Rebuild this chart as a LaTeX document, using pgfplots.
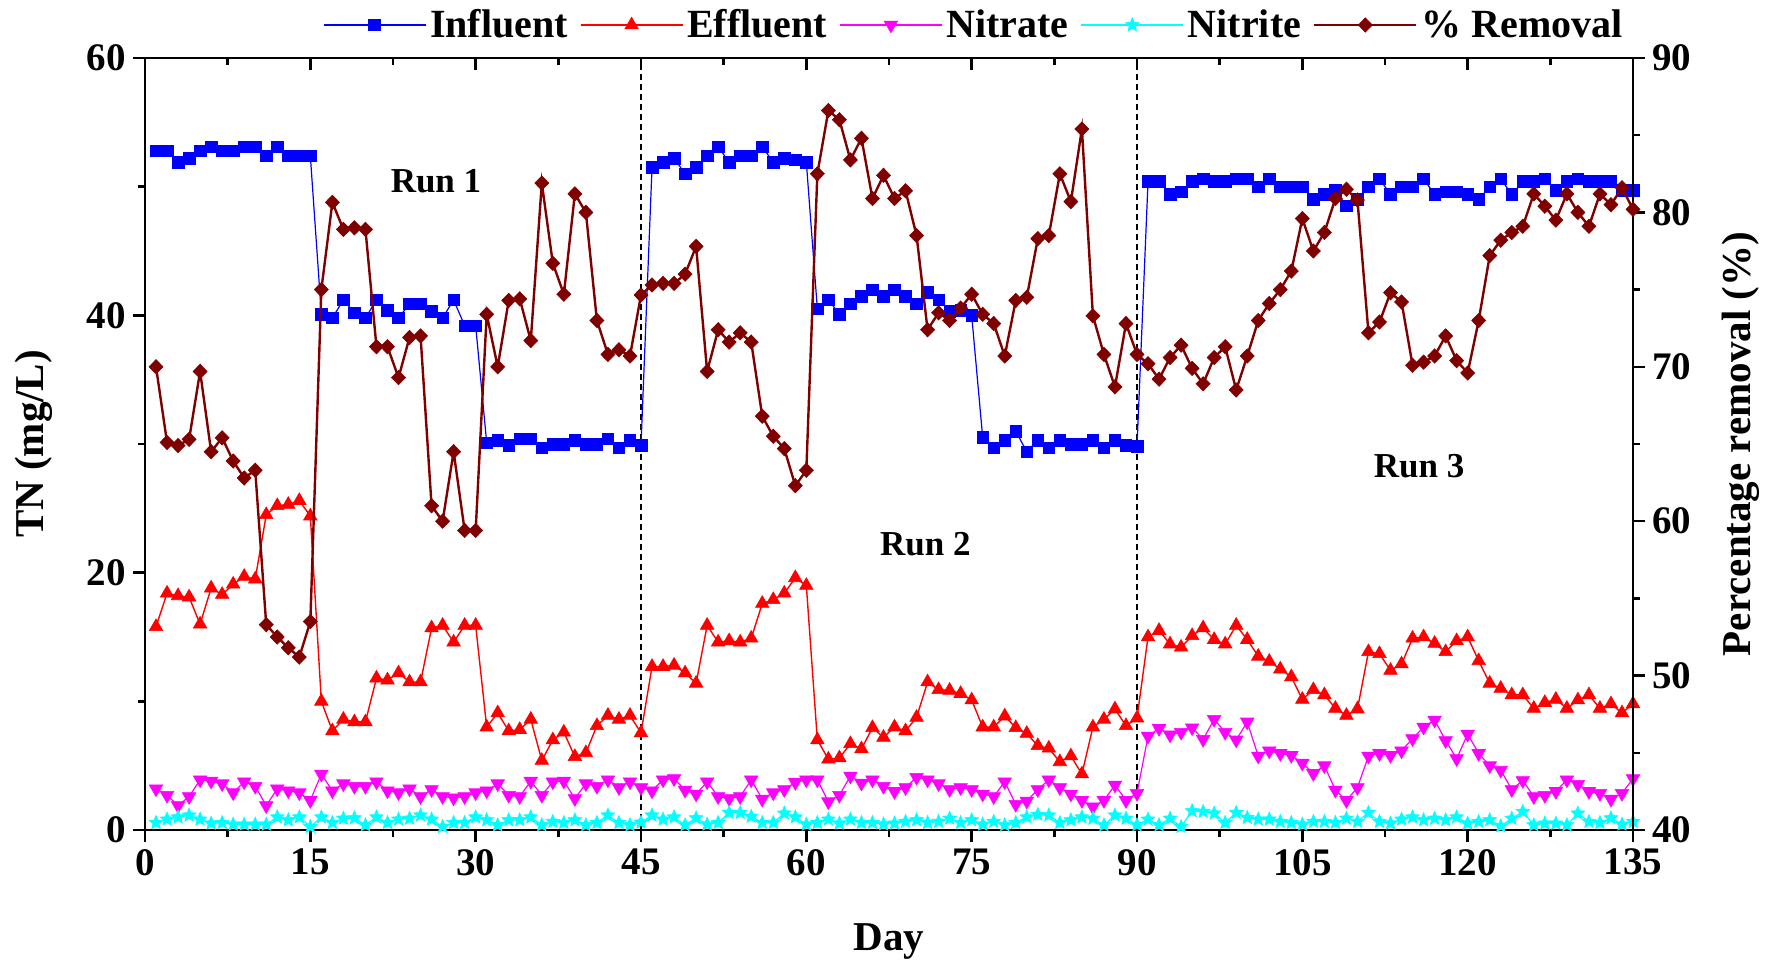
\documentclass[border=0pt]{standalone}
\usepackage{fontspec}
\setmainfont{Liberation Serif}
\usepackage{pgfplots}
\usepackage{pgfplotstable}
\pgfplotsset{compat=1.18}

\definecolor{remcol}{RGB}{128,0,0}
\definecolor{inflcol}{RGB}{0,0,255}
\definecolor{efflcol}{RGB}{255,0,0}
\definecolor{no3col}{RGB}{255,0,255}
\definecolor{no2col}{RGB}{0,255,255}

% filled five-pointed star
\pgfdeclareplotmark{fstar}{%
  \pgfpathmoveto{\pgfpointpolar{90}{\pgfplotmarksize}}%
  \pgfpathlineto{\pgfpointpolar{126}{0.45\pgfplotmarksize}}%
  \pgfpathlineto{\pgfpointpolar{162}{\pgfplotmarksize}}%
  \pgfpathlineto{\pgfpointpolar{198}{0.45\pgfplotmarksize}}%
  \pgfpathlineto{\pgfpointpolar{234}{\pgfplotmarksize}}%
  \pgfpathlineto{\pgfpointpolar{270}{0.45\pgfplotmarksize}}%
  \pgfpathlineto{\pgfpointpolar{306}{\pgfplotmarksize}}%
  \pgfpathlineto{\pgfpointpolar{342}{0.45\pgfplotmarksize}}%
  \pgfpathlineto{\pgfpointpolar{18}{\pgfplotmarksize}}%
  \pgfpathlineto{\pgfpointpolar{54}{0.45\pgfplotmarksize}}%
  \pgfpathclose
  \pgfusepathqfillstroke
}

% day, influent TN, effluent TN, nitrate, nitrite (mg/L), TN removal (%)
\pgfplotstableread{
day inf eff no3 no2 rem
1 52.8 15.8 3.2 0.57 70.0
2 52.8 18.4 2.7 0.83 65.1
3 51.9 18.2 1.9 1.0 64.9
4 52.2 18.1 2.6 1.15 65.3
5 52.8 16.0 3.9 0.83 69.7
6 53.1 18.8 3.8 0.52 64.5
7 52.8 18.3 3.6 0.57 65.4
8 52.8 19.1 2.9 0.44 63.9
9 53.1 19.7 3.75 0.44 62.8
10 53.1 19.5 3.4 0.44 63.3
11 52.4 24.5 1.9 0.44 53.3
12 53.1 25.2 3.2 1.0 52.5
13 52.4 25.3 3.05 0.78 51.8
14 52.4 25.6 2.9 1.0 51.2
15 52.4 24.4 2.3 0.26 53.5
16 40.1 10.0 4.35 1.0 75.0
17 39.8 7.7 3.05 0.57 80.65
18 41.2 8.6 3.6 0.9 78.9
19 40.2 8.4 3.4 0.93 79.0
20 39.8 8.4 3.4 0.39 78.9
21 41.2 11.8 3.75 1.0 71.3
22 40.4 11.65 3.05 0.57 71.3
23 39.8 12.2 2.9 0.83 69.3
24 40.9 11.5 3.2 0.9 71.9
25 40.9 11.5 2.6 1.15 72.0
26 40.3 15.7 3.15 0.83 61.0
27 39.8 15.9 2.6 0.26 60.0
28 41.2 14.6 2.5 0.57 64.5
29 39.2 15.9 2.6 0.57 59.4
30 39.2 15.9 2.9 1.0 59.4
31 30.1 8.0 3.05 0.78 73.4
32 30.3 9.1 3.6 0.39 70.0
33 29.9 7.7 2.7 0.78 74.3
34 30.4 7.8 2.6 0.78 74.4
35 30.4 8.6 3.8 1.0 71.7
36 29.7 5.4 2.7 0.39 81.9
37 30.0 7.0 3.75 0.65 76.7
38 30.0 7.6 3.8 0.57 74.7
39 30.3 5.7 2.45 0.78 81.2
40 30.0 6.0 3.6 0.39 80.0
41 30.0 8.1 3.4 0.57 73.0
42 30.4 8.9 3.9 1.15 70.8
43 29.7 8.6 3.3 0.57 71.1
44 30.3 8.9 3.75 0.39 70.7
45 29.9 7.55 3.3 0.6 74.65
46 51.5 12.7 3.05 1.15 75.3
47 51.9 12.7 3.9 0.83 75.4
48 52.2 12.8 4.0 1.0 75.4
49 51.0 12.2 3.1 0.39 76.0
50 51.5 11.4 2.8 0.93 77.8
51 52.4 15.9 3.75 0.44 69.7
52 53.1 14.6 2.6 0.57 72.4
53 51.9 14.7 2.45 1.35 71.6
54 52.4 14.6 2.6 1.35 72.2
55 52.4 14.9 3.9 1.05 71.6
56 53.1 17.6 2.4 0.57 66.8
57 51.9 17.9 2.9 0.57 65.5
58 52.2 18.4 3.15 1.3 64.7
59 52.1 19.6 3.7 1.0 62.3
60 51.9 19.0 3.9 0.44 63.3
61 40.5 7.0 3.9 0.57 82.5
62 41.2 5.5 2.2 0.83 86.6
63 40.1 5.6 2.7 0.52 86.0
64 40.9 6.7 4.2 0.83 83.4
65 41.5 6.3 3.65 0.57 84.8
66 42.0 7.95 3.9 0.57 80.9
67 41.5 7.2 3.4 0.45 82.4
68 42.0 8.0 3.0 0.52 80.9
69 41.5 7.7 3.3 0.65 81.4
70 40.9 8.75 4.1 0.78 78.5
71 41.8 11.5 3.9 0.57 72.4
72 41.2 10.9 3.6 0.65 73.5
73 40.3 10.85 3.15 0.9 73.0
74 40.4 10.6 3.3 0.57 73.8
75 40.0 10.1 3.15 0.78 74.7
76 30.5 8.0 2.8 0.44 73.4
77 29.7 8.0 2.6 0.65 72.8
78 30.3 8.85 3.75 0.39 70.7
79 31.0 7.95 2.0 0.57 74.3
80 29.4 7.5 2.25 1.0 74.5
81 30.3 6.55 3.15 1.2 78.3
82 29.7 6.35 3.9 1.15 78.5
83 30.3 5.3 3.3 0.57 82.5
84 30.0 5.75 2.8 0.78 80.7
85 30.0 4.35 2.3 1.0 85.4
86 30.3 8.0 1.8 0.9 73.3
87 29.7 8.6 2.3 0.39 70.8
88 30.3 9.4 3.5 1.15 68.7
89 29.9 8.1 2.3 0.9 72.8
90 29.8 8.7 2.85 0.39 70.8
91 50.4 15.0 7.3 0.83 70.2
92 50.4 15.5 7.9 0.39 69.2
93 49.4 14.45 7.4 0.9 70.6
94 49.6 14.2 7.6 0.26 71.4
95 50.4 15.1 7.95 1.48 69.9
96 50.6 15.7 7.05 1.43 68.9
97 50.4 14.8 8.6 1.3 70.6
98 50.4 14.45 7.6 0.57 71.3
99 50.6 15.9 7.0 1.35 68.5
100 50.6 14.8 8.4 0.96 70.7
101 50.0 13.5 5.75 0.83 73.0
102 50.6 13.1 6.15 0.83 74.1
103 50.0 12.5 5.95 0.65 75.0
104 50.0 11.9 5.8 0.57 76.2
105 50.0 10.15 5.2 0.44 79.6
106 49.0 10.9 4.4 0.65 77.5
107 49.4 10.5 5.0 0.65 78.7
108 49.7 9.45 3.1 0.57 80.9
109 48.5 8.9 2.3 0.9 81.5
110 49.0 9.4 3.3 0.65 80.8
111 50.0 13.85 5.75 1.35 72.2
112 50.6 13.7 5.95 0.65 72.9
113 49.4 12.4 5.8 0.52 74.8
114 50.0 12.9 6.15 0.83 74.2
115 50.0 14.9 7.1 1.0 70.1
116 50.6 15.0 8.0 0.78 70.3
117 49.4 14.5 8.55 0.9 70.7
118 49.6 13.85 6.95 0.78 72.0
119 49.6 14.7 5.55 1.0 70.4
120 49.4 15.0 7.45 0.52 69.6
121 49.0 13.15 5.95 0.65 73.0
122 50.0 11.4 5.0 0.78 77.2
123 50.6 11.0 4.65 0.31 78.2
124 49.4 10.5 3.15 0.9 78.7
125 50.4 10.5 3.85 1.43 79.1
126 50.4 9.45 2.6 0.39 81.2
127 50.6 9.9 2.7 0.52 80.4
128 49.7 10.15 3.0 0.52 79.5
129 50.4 9.45 3.9 0.39 81.2
130 50.6 10.1 3.55 1.3 80.0
131 50.4 10.5 3.0 0.65 79.1
132 50.4 9.45 2.85 0.57 81.2
133 50.4 9.8 2.4 0.93 80.5
134 49.7 9.1 2.85 0.44 81.6
135 49.7 9.8 4.0 0.65 80.2
}\tndata

\pgfplotsset{
  infl/.style={color=inflcol, line width=0.6pt, mark=square*, mark size=2.9pt,
    mark options={solid, fill=inflcol, line width=0.3pt}},
  effl/.style={color=efflcol, line width=0.7pt, mark=triangle*, mark size=3.9pt,
    mark options={solid, fill=efflcol, line width=0.3pt}},
  nitra/.style={color=no3col, line width=0.6pt, mark=triangle*, mark size=3.9pt,
    mark options={solid, fill=no3col, rotate=180, line width=0.3pt}},
  nitri/.style={color=no2col, line width=0.6pt, mark=fstar, mark size=3.6pt,
    mark options={solid, fill=no2col, line width=0.3pt}},
  remo/.style={color=remcol, line width=1.2pt, mark=diamond*, mark size=3.6pt,
    mark options={solid, fill=remcol, xscale=1.3, line width=0.3pt}},
  common/.style={
    at={(0,0)}, anchor=south west,
    scale only axis, width=744pt, height=386pt,
    xmin=0, xmax=135,
    xtick={0,15,...,135}, minor x tick num=1,
    major tick length=6pt, minor tick length=3.5pt,
    axis line style={line width=1.4pt, black},
    every tick/.style={black, line width=1.2pt},
    tick label style={font=\fontsize{19.5}{21}\selectfont\bfseries},
    /pgf/number format/assume math mode=true,
    label style={font=\fontsize{20.5}{23}\selectfont\bfseries},
  },
}

\begin{document}
\begin{tikzpicture}
\useasboundingbox (-72.5pt,-66.5pt) rectangle (815.5pt,415pt);

\begin{axis}[
  common,
  ymin=0, ymax=60,
  axis x line*=bottom, axis y line*=left,
  ytick={0,20,40,60}, minor y tick num=1,
  tick align=outside,
  xlabel={Day},
  ylabel={TN (mg/L)},
  xlabel style={at={(axis description cs:0.5,-0.145)}, anchor=center},
  ylabel style={at={(axis description cs:-0.0746,0.5)}, anchor=center},
]
  \draw[black, line width=0.6pt, dash pattern=on 3pt off 2pt] (axis cs:45,0) -- (axis cs:45,60);
  \draw[black, line width=0.6pt, dash pattern=on 3pt off 2pt] (axis cs:90,0) -- (axis cs:90,60);

  \addplot[infl] table[x=day, y=inf] {\tndata};
  \addplot[effl] table[x=day, y=eff] {\tndata};
  \addplot[nitra] table[x=day, y=no3] {\tndata};
  \addplot[nitri] table[x=day, y=no2] {\tndata};

  \node[font=\fontsize{17.5}{20}\selectfont\bfseries] at (axis cs:26.4,50.4) {Run 1};
  \node[font=\fontsize{17.5}{20}\selectfont\bfseries] at (axis cs:70.8,22.2) {Run 2};
  \node[font=\fontsize{17.5}{20}\selectfont\bfseries] at (axis cs:115.6,28.3) {Run 3};
\end{axis}

\begin{axis}[
  common,
  ymin=40, ymax=90,
  axis x line*=top, axis y line*=right,
  xticklabels={},
  ytick={40,50,...,90}, minor y tick num=1,
  xtick align=inside, ytick align=outside,
  ylabel={Percentage removal (\%)},
  ylabel style={at={(axis description cs:1.0726,0.5)}, anchor=center},
  legend columns=5,
  legend cell align=left,
  legend style={draw=none, fill=none, at={(1,1)}, anchor=east, yshift=16.5pt,
    font=\fontsize{20}{22}\selectfont\bfseries,
    /tikz/every even column/.append style={column sep=4pt}},
  legend image code/.code={%
    \draw[mark repeat=2, mark phase=2] plot coordinates {(0pt,0pt) (25.5pt,0pt) (51pt,0pt)};
  },
]
  \addlegendimage{infl}\addlegendentry{Influent}
  \addlegendimage{effl}\addlegendentry{Effluent}
  \addlegendimage{nitra}\addlegendentry{Nitrate}
  \addlegendimage{nitri}\addlegendentry{Nitrite}
  \addplot[remo] table[x=day, y=rem] {\tndata};
  \addlegendentry{\% Removal}
\end{axis}
\end{tikzpicture}
\end{document}
